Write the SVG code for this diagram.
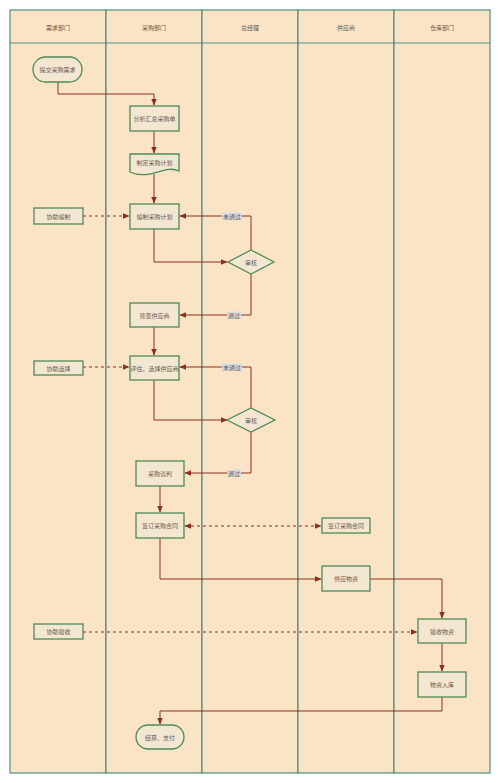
<svg xmlns="http://www.w3.org/2000/svg" width="500" height="783" viewBox="0 0 500 783">
<defs>
<style>
.lane{fill:#fbe4c5;stroke:#4f8f7f;stroke-width:1.2}
.hd{fill:#fbe4c5;stroke:#4f8f7f;stroke-width:1.2}
.nd{fill:#f4e7d2;stroke:#4e8a56;stroke-width:1.3}
.t{font-family:"Noto Sans CJK SC","Noto Sans",sans-serif;font-size:6px;fill:#6a5a50;text-anchor:middle;dominant-baseline:central}
.c{fill:none;stroke:#8b3020;stroke-width:1}
.d{fill:none;stroke:#8b3020;stroke-width:1;stroke-dasharray:3,3}
.lb{fill:#d9dbe2}
</style>
<marker id="ah" viewBox="0 0 10 10" refX="9" refY="5" markerWidth="7" markerHeight="7" orient="auto-start-reverse" markerUnits="userSpaceOnUse">
<path d="M0,1 L10,5 L0,9 Z" fill="#8b3020"/>
</marker>
</defs>
<rect width="500" height="783" fill="#ffffff"/>
<g id="lanes">
<rect class="lane" x="10" y="10" width="96" height="763"/>
<rect class="lane" x="106" y="10" width="96" height="763"/>
<rect class="lane" x="202" y="10" width="96" height="763"/>
<rect class="lane" x="298" y="10" width="96" height="763"/>
<rect class="lane" x="394" y="10" width="96" height="763"/>
<line x1="10" y1="43" x2="490" y2="43" stroke="#4f8f7f" stroke-width="1.2"/>
<text class="t" x="58" y="27">需求部门</text>
<text class="t" x="154" y="27">采购部门</text>
<text class="t" x="250" y="27">总经理</text>
<text class="t" x="346" y="27">供应商</text>
<text class="t" x="442" y="27">仓库部门</text>
</g>
<g id="connectors">
<path class="c" d="M58,82 V94 H154 V105" marker-end="url(#ah)"/>
<path class="c" d="M154,131 V153" marker-end="url(#ah)"/>
<path class="c" d="M154,174 V203" marker-end="url(#ah)"/>
<path class="d" d="M83,216 H129" marker-end="url(#ah)"/>
<path class="c" d="M154,229 V262 H227" marker-end="url(#ah)"/>
<path class="c" d="M251,250 V216 H180" marker-end="url(#ah)"/>
<path class="c" d="M251,274 V315 H180" marker-end="url(#ah)"/>
<path class="c" d="M154,327 V355" marker-end="url(#ah)"/>
<path class="d" d="M83,367 H129" marker-end="url(#ah)"/>
<path class="c" d="M154,380 V420 H227" marker-end="url(#ah)"/>
<path class="c" d="M251,408 V367 H180" marker-end="url(#ah)"/>
<path class="c" d="M251,432 V473 H185" marker-end="url(#ah)"/>
<path class="c" d="M160,486 V512" marker-end="url(#ah)"/>
<path class="d" d="M185,526 H321" marker-start="url(#ah)" marker-end="url(#ah)"/>
<path class="c" d="M160,538 V579 H321" marker-end="url(#ah)"/>
<path class="c" d="M370,579 H442 V618" marker-end="url(#ah)"/>
<path class="d" d="M83,632 H417" marker-end="url(#ah)"/>
<path class="c" d="M442,643 V671" marker-end="url(#ah)"/>
<path class="c" d="M442,697 V711 H160 V724" marker-end="url(#ah)"/>
<rect class="lb" x="222" y="212.5" width="20" height="7"/>
<text class="t" x="232" y="216">未通过</text>
<rect class="lb" x="227" y="311.5" width="14" height="7"/>
<text class="t" x="234" y="315">通过</text>
<rect class="lb" x="222" y="363.5" width="20" height="7"/>
<text class="t" x="232" y="367">未通过</text>
<rect class="lb" x="227" y="469.5" width="14" height="7"/>
<text class="t" x="234" y="473">通过</text>
</g>
<g id="n1"><rect class="nd" x="33" y="57" width="49" height="25" rx="12.5"/><text class="t" x="57.5" y="69.5">提交采购需求</text></g>
<g id="n2"><rect class="nd" x="130" y="106" width="49" height="25"/><text class="t" x="154.5" y="118.5">分析汇总采购单</text></g>
<g id="n3"><path class="nd" d="M130,154 H179 V171 C165,164 150,181 130,172 Z"/><text class="t" x="154.5" y="162">制定采购计划</text></g>
<g id="n4"><rect class="nd" x="130" y="204" width="49" height="25"/><text class="t" x="154.5" y="216.5">编制采购计划</text></g>
<g id="n5"><rect class="nd" x="34" y="208" width="49" height="16"/><text class="t" x="58.5" y="216">协助编制</text></g>
<g id="n6"><path class="nd" d="M228,262 L251,250 L274,262 L251,274 Z"/><text class="t" x="251" y="262">审核</text></g>
<g id="n7"><rect class="nd" x="130" y="303" width="49" height="24"/><text class="t" x="154.5" y="315">筛查供应商</text></g>
<g id="n8"><rect class="nd" x="130" y="356" width="49" height="24"/><text class="t" x="154.5" y="368">评估、选择供应商</text></g>
<g id="n9"><rect class="nd" x="34" y="361" width="49" height="14"/><text class="t" x="58.5" y="368">协助选择</text></g>
<g id="n10"><path class="nd" d="M227,420 L251,408 L275,420 L251,432 Z"/><text class="t" x="251" y="420">审核</text></g>
<g id="n11"><rect class="nd" x="136" y="461" width="48" height="25"/><text class="t" x="160" y="473.5">采购谈判</text></g>
<g id="n12"><rect class="nd" x="136" y="513" width="48" height="25"/><text class="t" x="160" y="525.5">签订采购合同</text></g>
<g id="n13"><rect class="nd" x="322" y="518" width="48" height="15"/><text class="t" x="346" y="525.5">签订采购合同</text></g>
<g id="n14"><rect class="nd" x="322" y="566" width="48" height="25"/><text class="t" x="346" y="578.5">供应物资</text></g>
<g id="n15"><rect class="nd" x="34" y="624" width="49" height="15"/><text class="t" x="58.5" y="631.5">协助验收</text></g>
<g id="n16"><rect class="nd" x="418" y="619" width="48" height="24"/><text class="t" x="442" y="631">验收物资</text></g>
<g id="n17"><rect class="nd" x="418" y="672" width="48" height="25"/><text class="t" x="442" y="684.5">物资入库</text></g>
<g id="n18"><rect class="nd" x="136" y="725" width="48" height="24" rx="12"/><text class="t" x="160" y="737">结算、支付</text></g>
</svg>
